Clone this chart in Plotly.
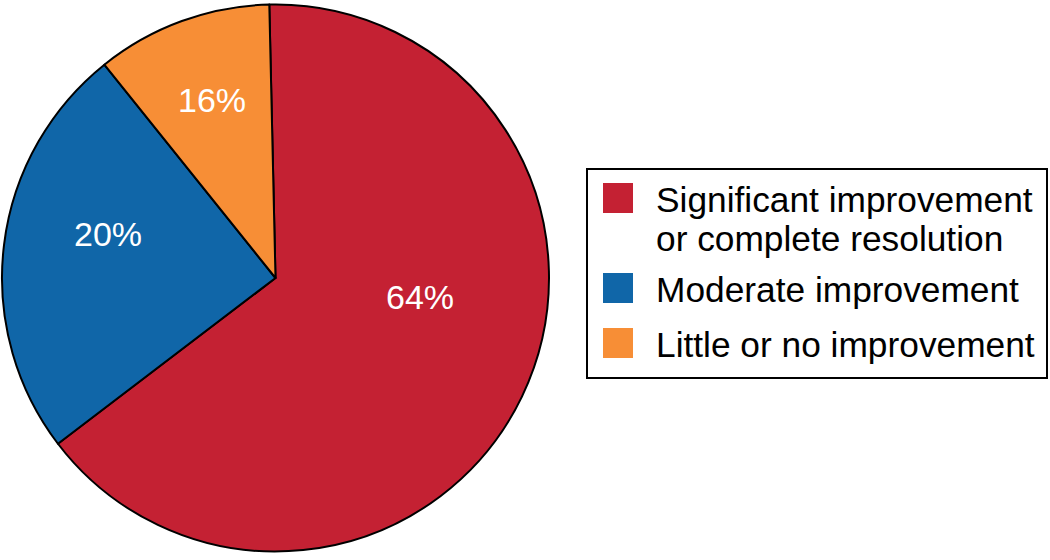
import plotly.graph_objects as go

W, H = 1050, 560

categories = ["Significant improvement<br>or complete resolution",
              "Moderate improvement",
              "Little or no improvement"]
legend_lines = [["Significant improvement", "or complete resolution"],
                ["Moderate improvement"],
                ["Little or no improvement"]]
slice_values = [65.0, 24.6, 10.4]
pct_labels = ["64%", "20%", "16%"]
colors = ["#C42133", "#1066A8", "#F78E36"]

FONT = "Liberation Sans, Arial, Helvetica, sans-serif"

def px(x):
    return x / W

def py(y):
    return 1 - y / H

fig = go.Figure()
fig.add_trace(go.Pie(
    labels=categories,
    values=slice_values,
    sort=False,
    direction="clockwise",
    rotation=-1.3,
    marker=dict(colors=colors, line=dict(color="black", width=2)),
    textinfo="none",
    hoverinfo="label+percent",
    showlegend=False,
    domain=dict(x=[px(2), px(549)], y=[py(554), py(2)]),
))

annotations = []
# slice labels
label_pos = [(420, 297), (108, 234), (212, 99.5)]
for t, (x, y) in zip(pct_labels, label_pos):
    annotations.append(dict(text=t, x=px(x), y=py(y), xref="paper", yref="paper",
                            showarrow=False, xanchor="center", yanchor="middle",
                            font=dict(family=FONT, size=34, color="white")))

shapes = []
# legend box
shapes.append(dict(type="rect", xref="paper", yref="paper",
                   x0=px(587), x1=px(1047), y0=py(378), y1=py(169),
                   line=dict(color="black", width=2), fillcolor="white", layer="below"))
sq_tops = [183, 273, 328]
line_centers = [[199, 238], [289], [344]]
for col, top, lines, cys in zip(colors, sq_tops, legend_lines, line_centers):
    shapes.append(dict(type="rect", xref="paper", yref="paper",
                       x0=px(603), x1=px(633), y0=py(top + 30), y1=py(top),
                       line=dict(width=0), fillcolor=col))
    for ln, cy in zip(lines, cys):
        annotations.append(dict(text=ln, x=px(654), y=py(cy), xref="paper", yref="paper",
                                showarrow=False, xanchor="left", yanchor="middle",
                                font=dict(family=FONT, size=35.3, color="black")))

fig.update_layout(
    width=W, height=H,
    margin=dict(l=0, r=0, t=0, b=0),
    paper_bgcolor="white",
    plot_bgcolor="white",
    annotations=annotations,
    shapes=shapes,
    showlegend=False,
)

fig.write_html("out.html",
               config={"displayModeBar": False},
               post_script="document.body.style.margin='0';document.body.style.overflow='hidden';")
